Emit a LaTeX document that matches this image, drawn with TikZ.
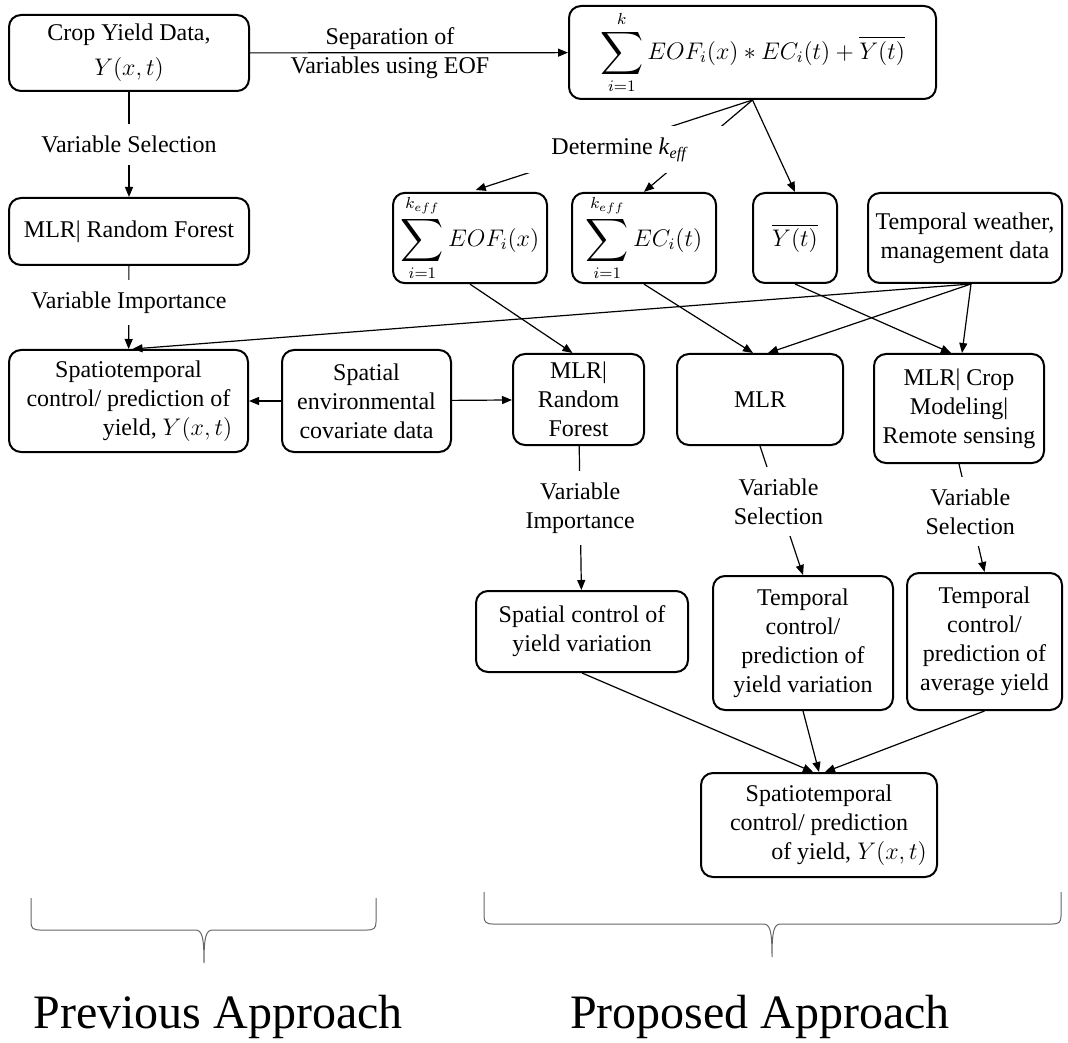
\documentclass[tikz,border=0pt]{standalone}
\usepackage{fontspec}
\setmainfont{Liberation Serif}
\usepackage{amsmath}
\usepackage{graphicx}
\usetikzlibrary{arrows.meta}
\newcommand{\bigsum}{\mathop{\vcenter{\hbox{\scalebox{1.25}{$\displaystyle\sum$}}}}\limits}
\newcommand{\keff}{\raisebox{0pt}[\height][2.5pt]{$\scriptstyle k_{eff}$}}

\begin{document}
\begin{tikzpicture}[x=0.5pt,y=-0.5pt,
  txt/.style={font=\fontsize{12}{14.5}\selectfont},
  box/.style={txt,draw,line width=1pt,rounded corners=6pt,align=center,inner sep=1pt},
  lbl/.style={txt,fill=white,align=center,inner xsep=1pt,inner ysep=6pt},
  arr/.style={-{Triangle[length=5pt,width=4pt]},line width=0.6pt},
  brc/.style={line width=0.5pt,black!60},
  big/.style={font=\fontsize{24}{28}\selectfont}]
\useasboundingbox (0,0) rectangle (1068,1042);

% top row
\node[box,minimum width=120pt,minimum height=38pt] (crop) at (129,53) {Crop Yield Data,\\[3pt]$Y(x,t)$};
\node[box,minimum width=183.5pt,minimum height=46.5pt] (sum) at (752.5,52.5) {$\bigsum_{i=1}^{k} EOF_i(x)*EC_i(t)+\overline{Y(t)}$};
\node[box,minimum width=120pt,minimum height=33.5pt] (mlrrf) at (129,231.5) {MLR| Random Forest};

% decomposition
\node[box,minimum width=77pt,minimum height=45pt] (eofsum) at (470,238) {$\bigsum_{i=1}^{\keff} EOF_i(x)$};
\node[box,minimum width=72pt,minimum height=45pt] (ecsum) at (644,238) {$\bigsum_{i=1}^{\keff} EC_i(t)$};
\node[box,minimum width=42pt,minimum height=45pt] (ybar) at (795,238) {$\overline{Y(t)}$};
\node[box,minimum width=97pt,minimum height=45pt] (weather) at (965,238) {Temporal weather,\\management data};

% models
\node[box,minimum width=119.5pt,minimum height=51pt] (spt) at (128.5,401) {Spatiotemporal\\control/ prediction of\\\hspace*{39pt}yield, $Y(x,t)$};
\node[box,minimum width=84.5pt,minimum height=51pt] (spenv) at (366.5,401) {Spatial\\environmental\\covariate data};
\node[box,minimum width=65.5pt,minimum height=45.5pt] (mlrrf2) at (578.5,399.5) {MLR|\\Random\\Forest};
\node[box,minimum width=83pt,minimum height=45.5pt] (mlr) at (760,399.5) {MLR};
\node[box,minimum width=85pt,minimum height=54.5pt] (mlrcrop) at (959,408.5) {MLR| Crop\\Modeling|\\Remote sensing};

% results
\node[box,minimum width=106pt,minimum height=40.5pt] (spctl) at (582,631.5) {Spatial control of\\yield variation};
\node[box,minimum width=90pt,minimum height=67pt] (tvar) at (803,643) {Temporal\\control/\\prediction of\\yield variation};
\node[box,minimum width=77.5pt,minimum height=68.5pt] (tavg) at (984.5,641.5) {Temporal\\control/\\prediction of\\average yield};
\node[box,minimum width=118pt,minimum height=52pt] (final) at (819,825) {Spatiotemporal\\control/ prediction\\\hspace*{30pt}of yield, $Y(x,t)$};

\draw[arr] (crop) -- node[txt,pos=0.44,above,inner sep=1.5pt] {Separation of} node[txt,pos=0.44,below,inner sep=1.5pt] {Variables using EOF} (sum);
\draw[arr] (crop) -- node[lbl] {Variable Selection} (mlrrf);
\draw[arr] (mlrrf) -- node[lbl,pos=0.44] {Variable Importance} (spt);

\draw[arr,shorten >=3pt] (sum.south) -- (eofsum.north);
\draw[arr] (sum.south) -- (ecsum.north);
\draw[arr] (sum.south) -- (ybar.north);
\node[lbl,minimum width=103pt,minimum height=23.5pt,inner ysep=0pt] (keff) at (620,150) {Determine \textit{k}\textsubscript{\textit{eff}}};

\draw[arr] (eofsum.south) -- ([xshift=-3pt]mlrrf2.north);
\draw[arr] (ecsum.south) -- ([xshift=-3.5pt]mlr.north);
\draw[arr] (ybar.south) -- ([xshift=-4pt]mlrcrop.north);
\draw[arr] ([xshift=3pt]weather.south) -- ([xshift=2pt]spt.north);
\draw[arr] ([xshift=3pt]weather.south) -- ([xshift=4pt]mlr.north);
\draw[arr] ([xshift=3pt]weather.south) -- ([xshift=1.5pt]mlrcrop.north);
\draw[arr] (spenv) -- (spt);
\draw[arr] (spenv) -- (mlrrf2);

\draw[arr] (mlrrf2) -- node[lbl,pos=0.43] {Variable\\Importance} (spctl);
\draw[arr] (mlr.south) -- node[lbl,pos=0.43] {Variable\\Selection} (tvar.north);
\draw[arr] (mlrcrop.south) -- node[lbl,pos=0.44] {Variable\\Selection} (tavg.north);
\draw[arr] (spctl.south) -- ([xshift=-3pt]final.north);
\draw[arr] (tvar.south) -- (final.north);
\draw[arr] (tavg.south) -- ([xshift=3pt]final.north);

% braces
\draw[brc] (31,898) -- (31,922) .. controls (31,928) and (33,930) .. (40,930) -- (195,930)
  .. controls (202,930) and (204,936) .. (204,963) .. controls (204,936) and (206,930) .. (213,930)
  -- (367,930) .. controls (374,930) and (376,928) .. (376,922) -- (376,898);
\draw[brc] (484,892) -- (484,916) .. controls (484,922) and (486,924) .. (493,924) -- (763,924)
  .. controls (770,924) and (772,930) .. (772,957) .. controls (772,930) and (774,924) .. (781,924)
  -- (1052,924) .. controls (1059,924) and (1061,922) .. (1061,916) -- (1061,892);

\node[big] (prev) at (218,1017) {Previous Approach};
\node[big] (prop) at (760,1017) {Proposed Approach};
\end{tikzpicture}
\end{document}
